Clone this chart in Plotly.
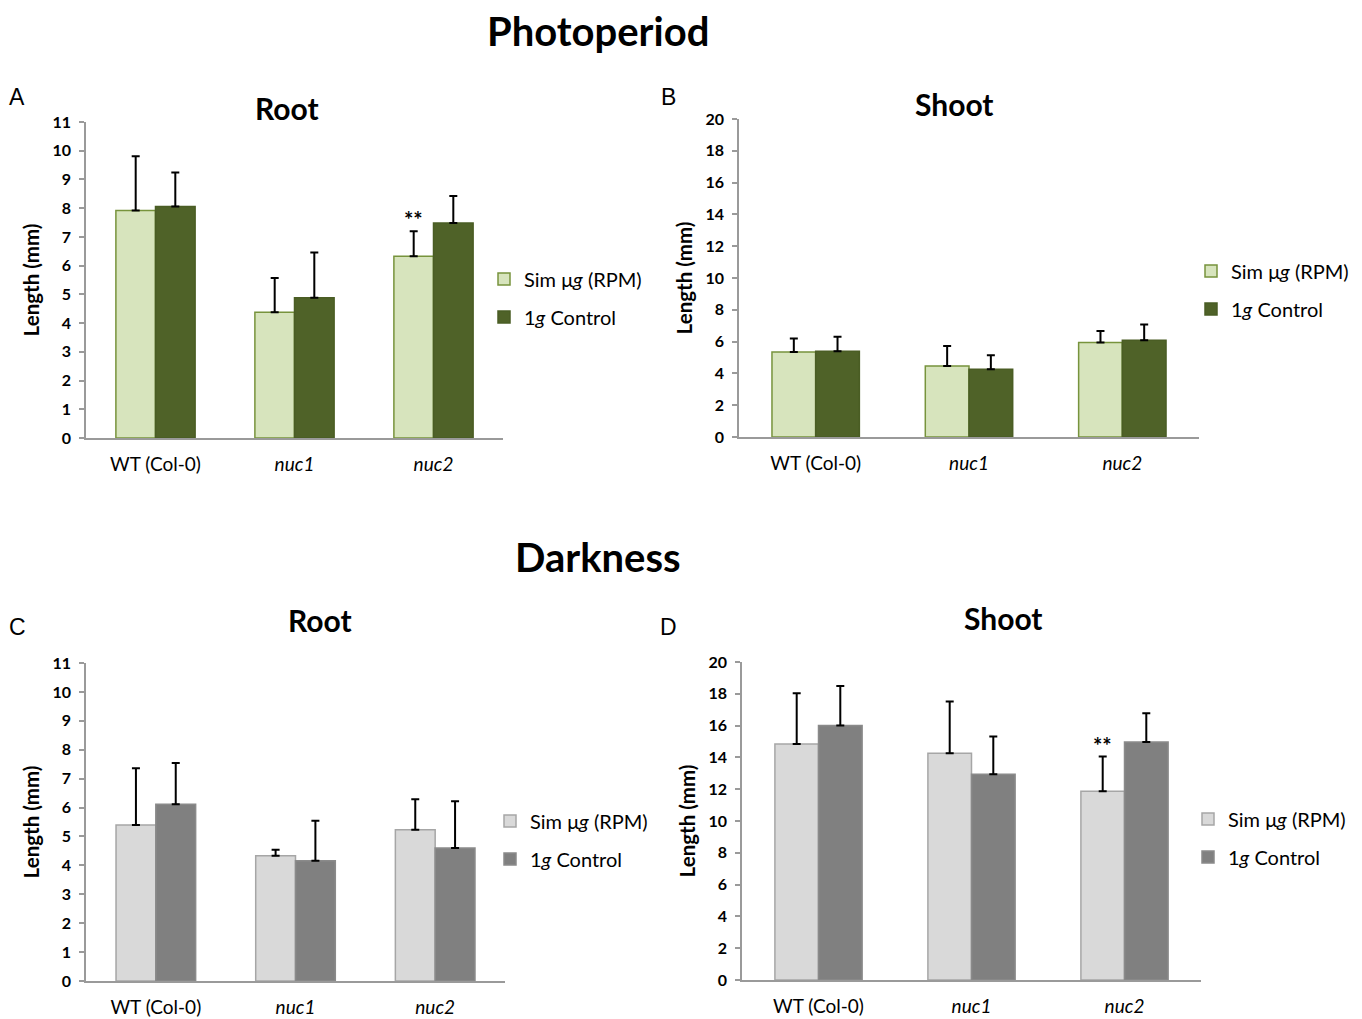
import plotly.graph_objects as go

# ---------------- data ----------------
categories = ["WT (Col-0)", "nuc1", "nuc2"]
tick_text = ["WT (Col-0)", "<i>nuc1</i>", "<i>nuc2</i>"]
series_names = ["Sim μ<i>g</i> (RPM)", "1<i>g</i> Control"]

# Photoperiod - Root (A)
A_sim = [7.92, 4.38, 6.33]
A_sim_err = [1.89, 1.19, 0.87]
A_1g = [8.06, 4.88, 7.48]
A_1g_err = [1.18, 1.58, 0.94]

# Photoperiod - Shoot (B)
B_sim = [5.35, 4.47, 5.94]
B_sim_err = [0.84, 1.26, 0.73]
B_1g = [5.39, 4.26, 6.09]
B_1g_err = [0.91, 0.88, 0.98]

# Darkness - Root (C)
C_sim = [5.40, 4.33, 5.23]
C_sim_err = [1.96, 0.21, 1.06]
C_1g = [6.11, 4.16, 4.60]
C_1g_err = [1.43, 1.38, 1.62]

# Darkness - Shoot (D)
D_sim = [14.85, 14.26, 11.87]
D_sim_err = [3.18, 3.25, 2.18]
D_1g = [16.00, 12.94, 14.97]
D_1g_err = [2.49, 2.37, 1.80]

# the page body has an 8px margin: the figure starts at (8, 8) in the window
OFF = 8
W, H = 1362 - OFF, 1019 - OFF
FONT = "Lato"

def px_x(p):
    return (p - OFF) / W

def px_y(p):
    return 1 - (p - OFF) / H

GREEN = dict(light="#d7e4bd", light_line="#77933c", dark="#4f6228", dark_line="#4a5d24")
GRAY = dict(light="#d9d9d9", light_line="#a6a6a6", dark="#808080", dark_line="#8a8a8a")

panels = [
    dict(s="", sim=A_sim, se=A_sim_err, g=A_1g, ge=A_1g_err, c=GREEN,
         xd=(86, 503), yd=(438, 122), ymax=11, dt=1, title="Root", tp=(287, 108),
         letter="A", lp=(17, 97), leg="legend", lg=(484, 298)),
    dict(s="2", sim=B_sim, se=B_sim_err, g=B_1g, ge=B_1g_err, c=GREEN,
         xd=(739, 1199), yd=(437, 119), ymax=20, dt=2, title="Shoot", tp=(954, 104),
         letter="B", lp=(668, 97), leg="legend2", lg=(1191, 290)),
    dict(s="3", sim=C_sim, se=C_sim_err, g=C_1g, ge=C_1g_err, c=GRAY,
         xd=(86, 505), yd=(981, 663), ymax=11, dt=1, title="Root", tp=(320, 620),
         letter="C", lp=(17, 627), leg="legend3", lg=(490, 840)),
    dict(s="4", sim=D_sim, se=D_sim_err, g=D_1g, ge=D_1g_err, c=GRAY,
         xd=(742, 1201), yd=(980, 662), ymax=20, dt=2, title="Shoot", tp=(1003, 618),
         letter="D", lp=(668, 627), leg="legend4", lg=(1188, 838)),
]

fig = go.Figure()
layout = dict(
    width=W, height=H,
    paper_bgcolor="white", plot_bgcolor="white",
    margin=dict(l=0, r=0, t=0, b=0, pad=0, autoexpand=False),
    barmode="group", bargap=0.43, bargroupgap=0,
    font=dict(family=FONT, color="black"),
    showlegend=True,
)
annotations = []

for p in panels:
    xa = "x" + p["s"]
    ya = "y" + p["s"]
    c = p["c"]
    for vals, errs, fill, line, name, grp in [
        (p["sim"], p["se"], c["light"], c["light_line"], series_names[0], "a"),
        (p["g"], p["ge"], c["dark"], c["dark_line"], series_names[1], "b"),
    ]:
        fig.add_trace(go.Bar(
            x=categories, y=vals, name=name,
            xaxis=xa, yaxis=ya,
            marker=dict(color=fill, line=dict(color=line, width=1.5)),
            error_y=dict(type="data", array=errs, arrayminus=[0] * len(errs),
                         symmetric=False, color="black", thickness=2, width=4),
            legend=p["leg"], legendgroup=p["leg"] + grp,
            showlegend=True,
        ))
    xkey = "xaxis" + p["s"]
    ykey = "yaxis" + p["s"]
    ytickvals = list(range(0, p["ymax"] + 1, p["dt"]))
    layout[xkey] = dict(
        domain=[px_x(p["xd"][0]), px_x(p["xd"][1])],
        anchor=ya, type="category",
        tickmode="array", tickvals=categories, ticktext=tick_text,
        showline=True, linecolor="#9a9a9a", linewidth=1.5,
        ticks="outside", ticklen=8, tickcolor="rgba(0,0,0,0)",
        tickfont=dict(family=FONT, size=19, color="black"),
        showgrid=False, zeroline=False, fixedrange=True,
    )
    layout[ykey] = dict(
        domain=[px_y(p["yd"][0]), px_y(p["yd"][1])],
        anchor=xa, range=[0, p["ymax"]],
        tickmode="array", tickvals=ytickvals,
        ticktext=["<b>%d</b>" % v for v in ytickvals],
        showline=True, linecolor="#9a9a9a", linewidth=1.5,
        ticks="outside", ticklen=5, tickcolor="#9a9a9a", tickwidth=1.5,
        ticklabelstandoff=5,
        tickfont=dict(family=FONT, size=16, color="black"),
        showgrid=False, zeroline=False,
        title=dict(text="<b>Length (mm)</b>", standoff=7,
                   font=dict(family=FONT, size=20.5, color="black")),
    )
    layout[p["leg"]] = dict(
        x=px_x(p["lg"][0]), y=px_y(p["lg"][1]), xanchor="left", yanchor="middle",
        xref="paper", yref="paper",
        font=dict(family=FONT, size=20, color="black"),
        tracegroupgap=9, traceorder="grouped", bgcolor="rgba(0,0,0,0)",
    )
    annotations.append(dict(
        x=px_x(p["tp"][0]), y=px_y(p["tp"][1]), xref="paper", yref="paper",
        text="<b>%s</b>" % p["title"], showarrow=False,
        font=dict(family=FONT, size=30, color="black"),
        xanchor="center", yanchor="middle"))
    annotations.append(dict(
        x=px_x(p["lp"][0]), y=px_y(p["lp"][1]), xref="paper", yref="paper",
        text=p["letter"], showarrow=False,
        font=dict(family="Liberation Sans", size=23, color="black"),
        xanchor="center", yanchor="middle"))

# significance markers on nuc2 Sim μg bars (A and D)
annotations.append(dict(x="nuc2", y=A_sim[2] + A_sim_err[2], xref="x", yref="y",
                        text="<b>**</b>", showarrow=False, xshift=-20, yshift=-4,
                        yanchor="bottom", font=dict(family=FONT, size=22, color="black")))
annotations.append(dict(x="nuc2", y=D_sim[2] + D_sim_err[2], xref="x4", yref="y4",
                        text="<b>**</b>", showarrow=False, xshift=-22, yshift=-4,
                        yanchor="bottom", font=dict(family=FONT, size=22, color="black")))

# section headers
annotations.append(dict(x=px_x(598), y=px_y(31), xref="paper", yref="paper",
                        text="<b>Photoperiod</b>", showarrow=False,
                        font=dict(family=FONT, size=40, color="black"),
                        xanchor="center", yanchor="middle"))
annotations.append(dict(x=px_x(598), y=px_y(557), xref="paper", yref="paper",
                        text="<b>Darkness</b>", showarrow=False,
                        font=dict(family=FONT, size=40, color="black"),
                        xanchor="center", yanchor="middle"))

layout["annotations"] = annotations
fig.update_layout(**layout)
fig.write_html("out.html")
